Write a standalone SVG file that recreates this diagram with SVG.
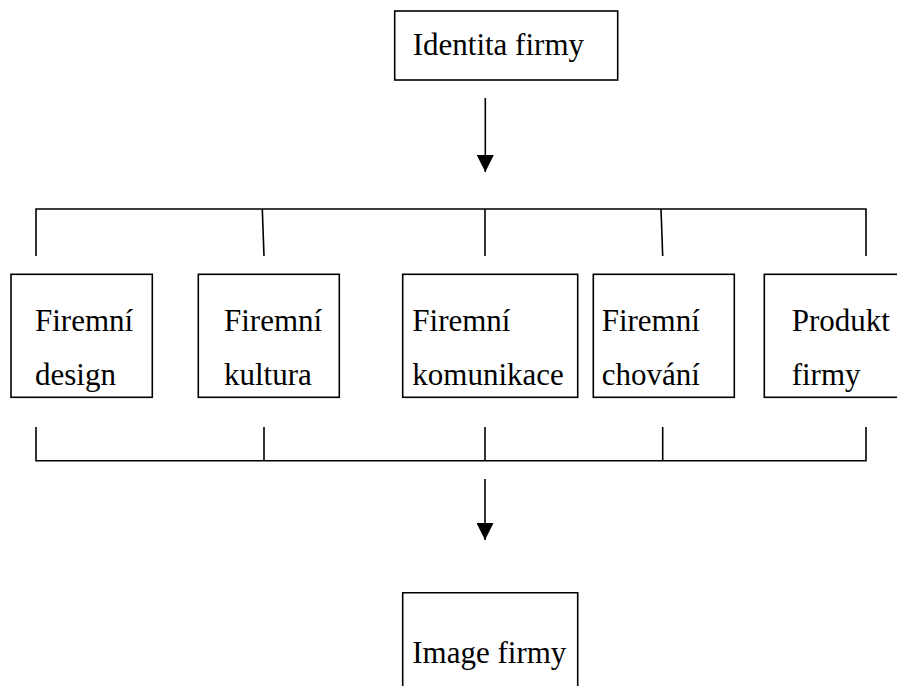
<svg xmlns="http://www.w3.org/2000/svg" width="897" height="686" viewBox="0 0 897 686">
<style>
.box{fill:#fff;stroke:#000;stroke-width:1.6}
.ln{fill:none;stroke:#000;stroke-width:1.6}
text{font-family:"Liberation Serif","Times New Roman",serif;font-size:31px;fill:#000}
</style>
<defs>
<marker id="ah" viewBox="0 0 10 10" refX="10" refY="5" markerWidth="17" markerHeight="17" markerUnits="userSpaceOnUse" orient="auto">
<path d="M0,0 L10,5 L0,10 z" fill="#000"/>
</marker>
</defs>
<rect width="897" height="686" fill="#fff"/>
<g id="connectors">
<line class="ln" x1="485.3" y1="98" x2="485.3" y2="172" marker-end="url(#ah)"/>
<path class="ln" d="M36,256 V209 H866 V256"/>
<line class="ln" x1="262.3" y1="209" x2="264" y2="256"/>
<line class="ln" x1="485" y1="209" x2="485" y2="256"/>
<line class="ln" x1="661" y1="209" x2="662.7" y2="256"/>
<path class="ln" d="M36,427 V460.7 H866 V427"/>
<line class="ln" x1="264" y1="427" x2="264" y2="460.7"/>
<line class="ln" x1="485" y1="427" x2="485" y2="460.7"/>
<line class="ln" x1="662.7" y1="427" x2="662.7" y2="460.7"/>
<line class="ln" x1="485" y1="479" x2="485" y2="540" marker-end="url(#ah)"/>
</g>
<g id="identita">
<rect class="box" x="394.7" y="11" width="223" height="69"/>
<text x="412.7" y="55">Identita firmy</text>
</g>
<g id="design">
<rect class="box" x="11" y="274.3" width="141.3" height="123"/>
<text x="35" y="331">Firemní</text>
<text x="35" y="385">design</text>
</g>
<g id="kultura">
<rect class="box" x="198.3" y="274.3" width="141" height="123"/>
<text x="224" y="331">Firemní</text>
<text x="224" y="385">kultura</text>
</g>
<g id="komunikace">
<rect class="box" x="402.7" y="274.3" width="175" height="123"/>
<text x="412.3" y="331">Firemní</text>
<text x="412.3" y="385">komunikace</text>
</g>
<g id="chovani">
<rect class="box" x="593.3" y="274.3" width="141" height="123"/>
<text x="601.7" y="331">Firemní</text>
<text x="601.7" y="385">chování</text>
</g>
<g id="produkt">
<rect class="box" x="764.3" y="274.3" width="160" height="123"/>
<text x="791.7" y="331">Produkt</text>
<text x="791.7" y="385">firmy</text>
</g>
<g id="image">
<path class="box" d="M402.7,690 V592.7 H577.7 V690"/>
<text x="412.3" y="663">Image firmy</text>
</g>
</svg>
